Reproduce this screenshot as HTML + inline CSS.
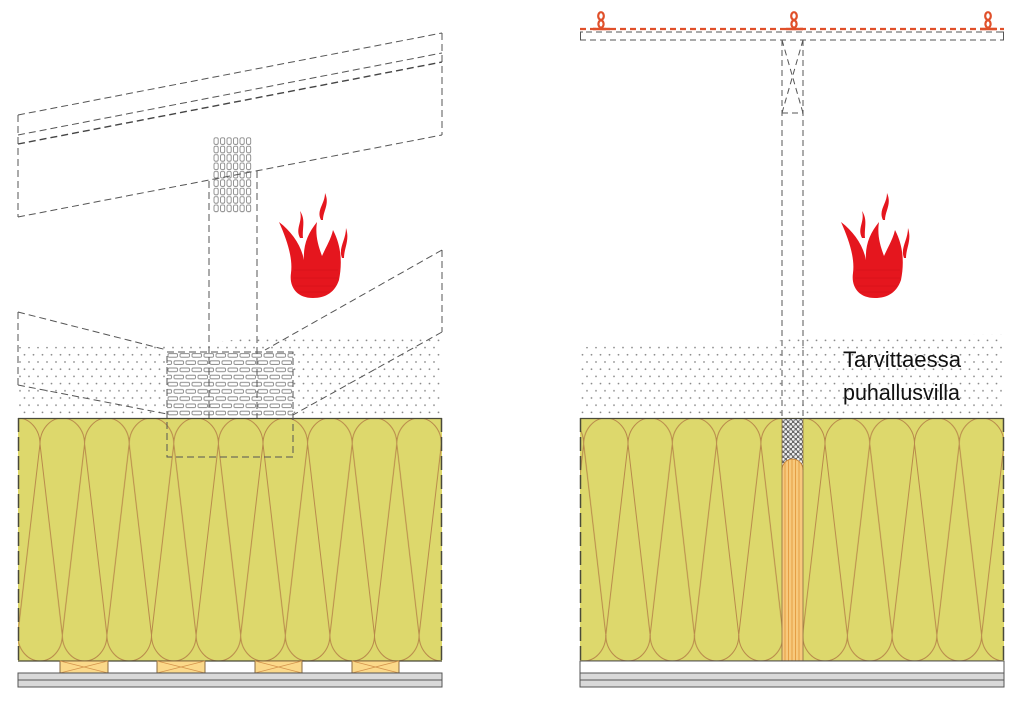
<!DOCTYPE html>
<html>
<head>
<meta charset="utf-8">
<style>
html,body{margin:0;padding:0;background:#fff;}
svg{display:block;}
</style>
</head>
<body>
<svg width="1024" height="704" viewBox="0 0 1024 704" xmlns="http://www.w3.org/2000/svg">
<defs>
  <pattern id="dots" patternUnits="userSpaceOnUse" x="0" y="0" width="9" height="14.4">
    <circle cx="2" cy="2" r="0.9" fill="#8a8a8a"/>
    <circle cx="6.5" cy="9.2" r="0.9" fill="#8a8a8a"/>
  </pattern>
  <pattern id="insL" patternUnits="userSpaceOnUse" x="40" y="418" width="44.6" height="243">
    <g fill="none" stroke="#b8884a" stroke-width="1">
      <path d="M0,26 A22.3 26 0 0 1 44.6,26"/>
      <path d="M0,26 L22.3,217 L44.6,26"/>
      <path d="M-22.3,217 A22.3 26 0 0 0 22.3,217"/>
      <path d="M22.3,217 A22.3 26 0 0 0 66.9,217"/>
    </g>
  </pattern>
  <pattern id="insR1" patternUnits="userSpaceOnUse" x="628" y="418" width="44.3" height="243">
    <g fill="none" stroke="#b8884a" stroke-width="1">
      <path d="M0,26 A22.15 26 0 0 1 44.3,26"/>
      <path d="M0,26 L22.15,217 L44.3,26"/>
      <path d="M-22.15,217 A22.15 26 0 0 0 22.15,217"/>
      <path d="M22.15,217 A22.15 26 0 0 0 66.45,217"/>
    </g>
  </pattern>
  <pattern id="insR2" patternUnits="userSpaceOnUse" x="825" y="418" width="44.75" height="243">
    <g fill="none" stroke="#b8884a" stroke-width="1">
      <path d="M0,26 A22.375 26 0 0 1 44.75,26"/>
      <path d="M0,26 L22.375,217 L44.75,26"/>
      <path d="M-22.375,217 A22.375 26 0 0 0 22.375,217"/>
      <path d="M22.375,217 A22.375 26 0 0 0 67.125,217"/>
    </g>
  </pattern>
  <pattern id="vgrid" patternUnits="userSpaceOnUse" x="213" y="137" width="6.5" height="8.4">
    <rect x="1" y="0.8" width="4.2" height="6.6" rx="1.5" fill="none" stroke="#8a8a8a" stroke-width="0.9"/>
  </pattern>
  <pattern id="bricks" patternUnits="userSpaceOnUse" x="167" y="352" width="12" height="14.4">
    <g fill="none" stroke="#8a8a8a" stroke-width="0.9">
      <rect x="1" y="1.6" width="9.5" height="3.6" rx="1.2"/>
      <rect x="7" y="8.8" width="9.5" height="3.6" rx="1.2"/>
      <rect x="-5" y="8.8" width="9.5" height="3.6" rx="1.2"/>
    </g>
  </pattern>
  <pattern id="gravel" patternUnits="userSpaceOnUse" x="782" y="418" width="5" height="5">
    <rect width="5" height="5" fill="#6a6a6a"/>
    <circle cx="1.2" cy="1.2" r="1.4" fill="#eeeeee"/>
    <circle cx="3.7" cy="3.7" r="1.4" fill="#eeeeee"/>
  </pattern>
  <clipPath id="studclip">
    <path d="M782,661 L782,470 A10.5 11 0 0 1 803,470 L803,661 Z"/>
  </clipPath>
  <g id="flame">
    <path fill="#e5161e" d="M43,108 C26,108 19,96 21,83 C23,68 17,50 9,32 C22,42 31,55 34,70 C33,55 38,43 47,32 C45,45 48,55 52,66 C56,57 61,49 63,40 C72,57 72,75 69,90 C65,102 56,108 43,108 Z"/>
    <path fill="#e5161e" d="M30,48 C25,38 33,32 30,21 C36,30 32,38 33,48 Z"/>
    <path fill="#e5161e" d="M51,30 C46,20 55,14 55,3 C60,14 53,21 53,30 Z"/>
    <path fill="#e5161e" d="M72,68 C68,58 76,50 76,38 C80,50 74,58 74,68 Z"/>
    <g stroke="#c00a12" stroke-width="0.5" opacity="0.6">
      <line x1="24" y1="80" x2="68" y2="80"/>
      <line x1="23" y1="88" x2="68" y2="88"/>
      <line x1="25" y1="96" x2="65" y2="96"/>
      <line x1="28" y1="102" x2="60" y2="102"/>
    </g>
  </g>
</defs>

<!-- ================= LEFT PANEL ================= -->
<path d="M18,347 L160,346 C215,344 250,336 300,335 L442,335 L442,418 L18,418 Z" fill="url(#dots)"/>

<rect x="18" y="418" width="424" height="243" fill="#ddd86c"/>
<rect x="18" y="418" width="424" height="243" fill="url(#insL)"/>
<line x1="18" y1="418.5" x2="442" y2="418.5" stroke="#4a4a3a" stroke-width="1.2"/>
<line x1="18" y1="661" x2="442" y2="661" stroke="#4a4a3a" stroke-width="1.2"/>
<g stroke="#4a4a3a" stroke-width="1.5" stroke-dasharray="14 5">
  <line x1="18.5" y1="418" x2="18.5" y2="661"/>
  <line x1="441.5" y1="418" x2="441.5" y2="661"/>
</g>

<g stroke="#8a6a40" stroke-width="1" fill="#fbd98a">
  <rect x="60" y="661" width="48" height="12"/>
  <rect x="157" y="661" width="48" height="12"/>
  <rect x="255" y="661" width="47" height="12"/>
  <rect x="352" y="661" width="47" height="12"/>
</g>
<g stroke="#d4944c" stroke-width="0.9">
  <path d="M60,661 L108,673 M108,661 L60,673"/>
  <path d="M157,661 L205,673 M205,661 L157,673"/>
  <path d="M255,661 L302,673 M302,661 L255,673"/>
  <path d="M352,661 L399,673 M399,661 L352,673"/>
</g>
<rect x="18" y="673" width="424" height="7" fill="#d9d9d9" stroke="#555" stroke-width="1"/>
<rect x="18" y="680" width="424" height="7" fill="#d9d9d9" stroke="#555" stroke-width="1"/>

<rect x="213" y="137" width="39" height="76" fill="#fff"/>
<rect x="213" y="137" width="39" height="76" fill="url(#vgrid)"/>
<rect x="167" y="352" width="126" height="65" fill="#fff"/>
<rect x="167" y="352" width="126" height="65" fill="url(#bricks)"/>

<g fill="none" stroke="#555" stroke-width="1" stroke-dasharray="7 4">
  <line x1="18" y1="115" x2="442" y2="33"/>
  <line x1="18" y1="135" x2="442" y2="53"/>
  <line x1="18" y1="217" x2="442" y2="135"/>
  <line x1="18" y1="115" x2="18" y2="217"/>
  <line x1="442" y1="33" x2="442" y2="135"/>
  <line x1="209" y1="181" x2="209" y2="418"/>
  <line x1="257" y1="171" x2="257" y2="418"/>
  <line x1="18" y1="312" x2="167" y2="350"/>
  <line x1="18" y1="312" x2="18" y2="385"/>
  <line x1="18" y1="385" x2="167" y2="414"/>
  <line x1="442" y1="250" x2="265" y2="350"/>
  <line x1="442" y1="250" x2="442" y2="332"/>
  <line x1="442" y1="332" x2="293" y2="415"/>
  <rect x="167" y="352" width="126" height="105"/>
</g>
<line x1="18" y1="144" x2="442" y2="62" stroke="#444" stroke-width="1.4" stroke-dasharray="7 4"/>

<use href="#flame" transform="translate(270,190)"/>

<!-- ================= RIGHT PANEL ================= -->
<path d="M580,347 L740,345 C770,343 790,338 820,336 L1004,334 L1004,418 L580,418 Z" fill="url(#dots)"/>

<rect x="580" y="418" width="424" height="243" fill="#ddd86c"/>
<rect x="580" y="418" width="202" height="243" fill="url(#insR1)"/>
<rect x="803" y="418" width="201" height="243" fill="url(#insR2)"/>

<rect x="782" y="418" width="21" height="56" fill="url(#gravel)"/>
<path d="M782,661 L782,470 A10.5 11 0 0 1 803,470 L803,661 Z" fill="#f7c97c"/>
<g clip-path="url(#studclip)" stroke="#e39a3e" stroke-width="0.9">
  <line x1="785" y1="455" x2="785" y2="661"/>
  <line x1="788.5" y1="455" x2="788.5" y2="661"/>
  <line x1="792" y1="455" x2="792" y2="661"/>
  <line x1="795.5" y1="455" x2="795.5" y2="661"/>
  <line x1="799" y1="455" x2="799" y2="661"/>
</g>
<path d="M782,470 A10.5 11 0 0 1 803,470" fill="none" stroke="#c8883a" stroke-width="0.9"/>
<line x1="782" y1="418" x2="782" y2="661" stroke="#8a6a40" stroke-width="0.8"/>
<line x1="803" y1="418" x2="803" y2="661" stroke="#8a6a40" stroke-width="0.8"/>

<line x1="580" y1="418.5" x2="1004" y2="418.5" stroke="#4a4a3a" stroke-width="1.2"/>
<line x1="580" y1="661" x2="1004" y2="661" stroke="#4a4a3a" stroke-width="1.2"/>
<g stroke="#4a4a3a" stroke-width="1.5" stroke-dasharray="14 5">
  <line x1="580.5" y1="418" x2="580.5" y2="661"/>
  <line x1="1003.5" y1="418" x2="1003.5" y2="661"/>
</g>

<rect x="580" y="661" width="424" height="12" fill="#fff" stroke="#555" stroke-width="1"/>
<rect x="580" y="673" width="424" height="7" fill="#d9d9d9" stroke="#555" stroke-width="1"/>
<rect x="580" y="680" width="424" height="7" fill="#d9d9d9" stroke="#555" stroke-width="1"/>

<g fill="none" stroke="#555" stroke-width="1" stroke-dasharray="6 4">
  <line x1="580" y1="40" x2="1004" y2="40"/>
  <line x1="586" y1="32" x2="1000" y2="32"/>
  <line x1="782" y1="40" x2="782" y2="418"/>
  <line x1="803" y1="40" x2="803" y2="418"/>
  <line x1="782" y1="113" x2="803" y2="113"/>
  <line x1="782" y1="40" x2="803" y2="113"/>
  <line x1="803" y1="40" x2="782" y2="113"/>
</g>
<g stroke="#555" stroke-width="1" fill="none">
  <path d="M583,32 L580.5,32 L580.5,40 L584,40"/>
  <path d="M1000,32 L1003.5,32 L1003.5,40 L1000,40"/>
</g>
<line x1="580" y1="29" x2="1004" y2="29" stroke="#e0502a" stroke-width="2.2" stroke-dasharray="6 4"/>

<g fill="none" stroke="#e0502a" stroke-width="2.2">
  <ellipse cx="601" cy="16" rx="2.8" ry="3.8"/>
  <ellipse cx="601" cy="24" rx="2.6" ry="3.6"/>
  <line x1="593" y1="29" x2="610" y2="29" stroke-width="2.6"/>
  <ellipse cx="794" cy="16" rx="2.8" ry="3.8"/>
  <ellipse cx="794" cy="24" rx="2.6" ry="3.6"/>
  <line x1="786" y1="29" x2="803" y2="29" stroke-width="2.6"/>
  <ellipse cx="988" cy="16" rx="2.8" ry="3.8"/>
  <ellipse cx="988" cy="24" rx="2.6" ry="3.6"/>
  <line x1="980" y1="29" x2="997" y2="29" stroke-width="2.6"/>
</g>

<use href="#flame" transform="translate(832,190)"/>

<text x="843" y="367" font-family="'Liberation Sans', sans-serif" font-size="22" fill="#111" textLength="118" lengthAdjust="spacingAndGlyphs">Tarvittaessa</text>
<text x="843" y="400" font-family="'Liberation Sans', sans-serif" font-size="22" fill="#111" textLength="117" lengthAdjust="spacingAndGlyphs">puhallusvilla</text>
</svg>
</body>
</html>
